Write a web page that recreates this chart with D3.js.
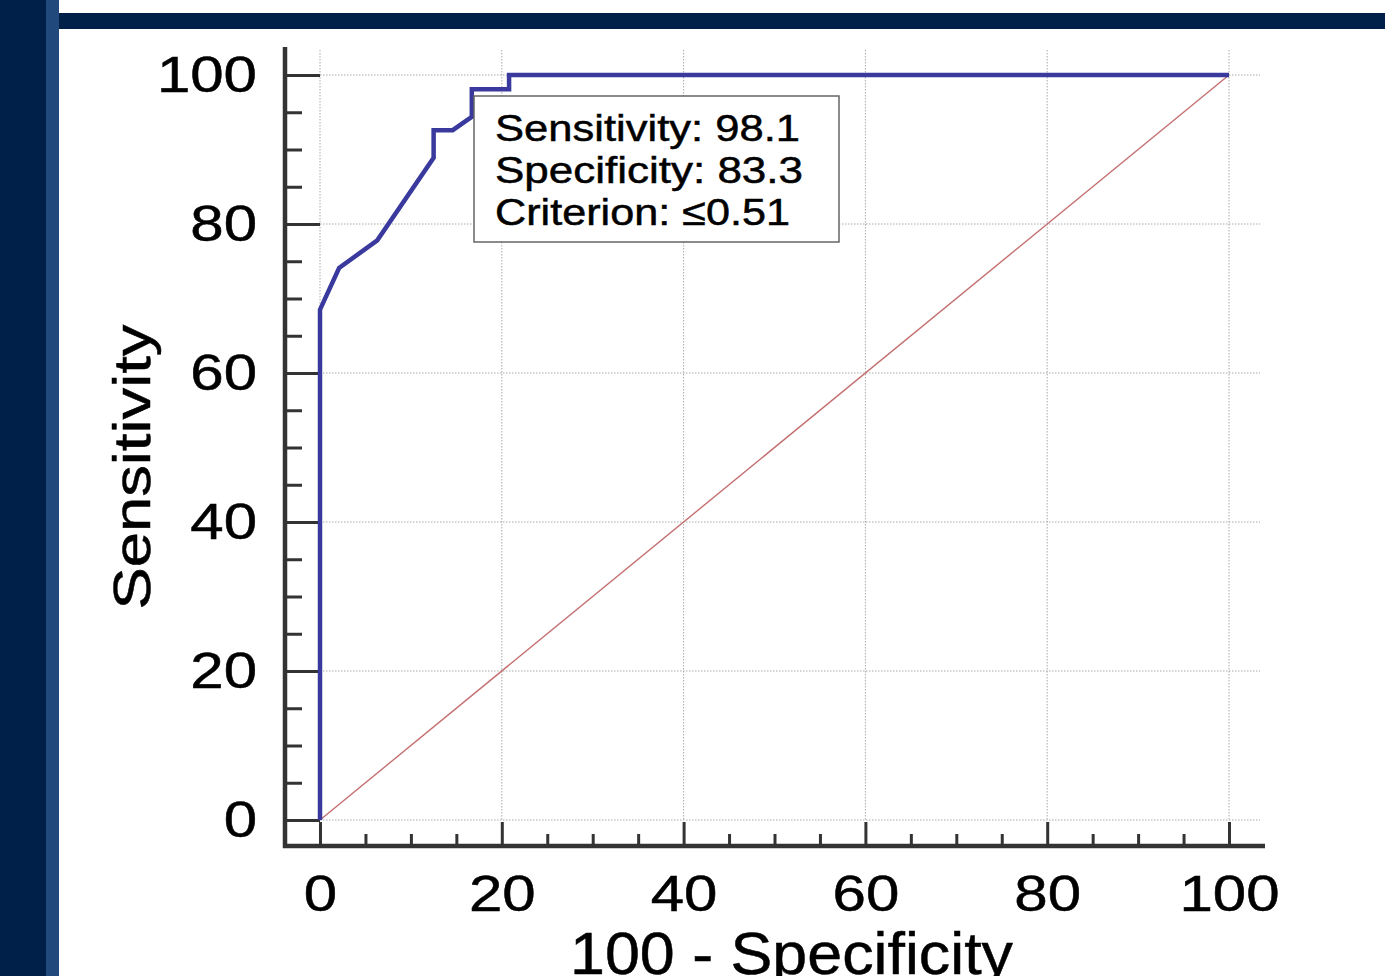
<!DOCTYPE html>
<html>
<head>
<meta charset="utf-8">
<script src="https://cdn.jsdelivr.net/npm/d3@7"></script>
<style>
  body { margin: 0; background: #fff; }
  svg { display: block; font-family: "Liberation Sans", Arial, sans-serif; }
  svg text { stroke: #000; stroke-width: 0.5px; }
</style>
</head>
<body>
<div id="graph"></div>
<script>
// ROC curve points (100 - specificity, sensitivity)
const fpr = [0, 0, 2.1, 6.3, 12.5, 12.5, 14.6, 16.7, 16.7, 20.8, 20.8, 100];
const tpr = [0, 68.5, 74.1, 77.8, 88.9, 92.6, 92.6, 94.4, 98.1, 98.1, 100, 100];

const majorTicks = [0, 20, 40, 60, 80, 100];
const minorTicks = [5, 10, 15, 25, 30, 35, 45, 50, 55, 65, 70, 75, 85, 90, 95];

const boxLines = ["Sensitivity: 98.1", "Specificity: 83.3", "Criterion: \u22640.51"];
const boxWidths = [305, 308, 295];

const xTitle = "100 - Specificity";
const yTitle = "Sensitivity";

let width = 1385, height = 976;

let svg = d3.select("#graph")
    .append("svg")
    .attr("width", width)
    .attr("height", height);

// slide frame
svg.append("rect").attr("x", 0).attr("y", 0).attr("width", 46).attr("height", height).attr("fill", "#00204a");
svg.append("rect").attr("x", 46).attr("y", 0).attr("width", 13).attr("height", height).attr("fill", "#22497b");
svg.append("rect").attr("x", 59).attr("y", 13).attr("width", width - 59).attr("height", 16).attr("fill", "#00204a");

let x = d3.scaleLinear()
    .domain([0, 100])
    .range([320, 1229]);

let y = d3.scaleLinear()
    .domain([0, 100])
    .range([820, 75]);

// grid
svg.append("g")
  .selectAll("line")
  .data(majorTicks)
  .join("line")
    .attr("x1", d => x(d)).attr("x2", d => x(d))
    .attr("y1", 50).attr("y2", y(0))
    .attr("stroke", "#aaa")
    .attr("stroke-width", 1)
    .attr("stroke-dasharray", "1.5,1.5");

svg.append("g")
  .selectAll("line")
  .data(majorTicks)
  .join("line")
    .attr("x1", x(0)).attr("x2", 1260)
    .attr("y1", d => y(d)).attr("y2", d => y(d))
    .attr("stroke", "#aaa")
    .attr("stroke-width", 1)
    .attr("stroke-dasharray", "1.5,1.5");

// diagonal reference
svg.append("line")
    .attr("x1", x(0)).attr("y1", y(0))
    .attr("x2", x(100)).attr("y2", y(100))
    .attr("stroke", "#c46f70")
    .attr("stroke-width", 1.4);

// Y axis: ticks point right from the spine
let yMajor = svg.append("g")
    .attr("transform", "translate(285,0)")
    .call(d3.axisRight(y).tickValues(majorTicks).tickSize(35).tickFormat(""));
let yMinor = svg.append("g")
    .attr("transform", "translate(285,0)")
    .call(d3.axisRight(y).tickValues(minorTicks).tickSize(17).tickFormat(""));
[yMajor, yMinor].forEach(g => {
  g.select(".domain").remove();
  g.selectAll(".tick line").attr("stroke", "#333").attr("stroke-width", 3);
});

let yLabels = svg.append("g")
    .attr("transform", "translate(257,0)")
    .call(d3.axisLeft(y).tickValues(majorTicks).tickSize(0).tickPadding(0));
yLabels.select(".domain").remove();
yLabels.selectAll("text")
    .attr("font-size", 50)
    .attr("font-family", "Liberation Sans, Arial, sans-serif")
    .attr("fill", "#000")
    .attr("transform", "scale(1.2,1)");

// X axis: ticks point up from the spine
let xMajor = svg.append("g")
    .attr("transform", "translate(0,846)")
    .call(d3.axisTop(x).tickValues(majorTicks).tickSize(24).tickFormat(""));
let xMinor = svg.append("g")
    .attr("transform", "translate(0,846)")
    .call(d3.axisTop(x).tickValues(minorTicks).tickSize(12).tickFormat(""));
[xMajor, xMinor].forEach(g => {
  g.select(".domain").remove();
  g.selectAll(".tick line").attr("stroke", "#333").attr("stroke-width", 3);
});

let xLabels = svg.append("g")
    .attr("transform", "translate(0,875)")
    .call(d3.axisBottom(x).tickValues(majorTicks).tickSize(0).tickPadding(0));
xLabels.select(".domain").remove();
xLabels.selectAll("text")
    .attr("font-size", 50)
    .attr("font-family", "Liberation Sans, Arial, sans-serif")
    .attr("fill", "#000")
    .attr("transform", "scale(1.2,1)");

// spines
svg.append("line").attr("x1", 285).attr("x2", 285).attr("y1", 47).attr("y2", 848)
    .attr("stroke", "#333").attr("stroke-width", 4.5);
svg.append("line").attr("x1", 283).attr("x2", 1265).attr("y1", 846).attr("y2", 846)
    .attr("stroke", "#333").attr("stroke-width", 4.5);

// ROC curve
let line = d3.line()
    .x((d, i) => x(fpr[i]))
    .y((d, i) => y(tpr[i]));

svg.append("path")
    .datum(fpr)
    .attr("d", line)
    .attr("fill", "none")
    .attr("stroke", "#3a3a9e")
    .attr("stroke-width", 4.5)
    .attr("stroke-linejoin", "miter");

// criterion box
svg.append("rect")
    .attr("x", 474).attr("y", 96)
    .attr("width", 365).attr("height", 146)
    .attr("fill", "#fff")
    .attr("stroke", "#666")
    .attr("stroke-width", 1.5);

svg.append("g")
  .selectAll("text")
  .data(boxLines)
  .join("text")
    .attr("x", 495)
    .attr("y", (d, i) => 141 + i * 42)
    .attr("font-size", 37.5)
    .attr("textLength", (d, i) => boxWidths[i])
    .attr("lengthAdjust", "spacingAndGlyphs")
    .attr("fill", "#000")
    .text(d => d);

// axis titles
svg.append("text")
    .attr("x", 570)
    .attr("y", 974)
    .attr("font-size", 59)
    .attr("textLength", 443)
    .attr("lengthAdjust", "spacingAndGlyphs")
    .attr("fill", "#000")
    .text(xTitle);

svg.append("text")
    .attr("transform", "translate(150,467) rotate(-90)")
    .attr("text-anchor", "middle")
    .attr("font-size", 52)
    .attr("textLength", 285)
    .attr("lengthAdjust", "spacingAndGlyphs")
    .attr("fill", "#000")
    .text(yTitle);
</script>
</body>
</html>
